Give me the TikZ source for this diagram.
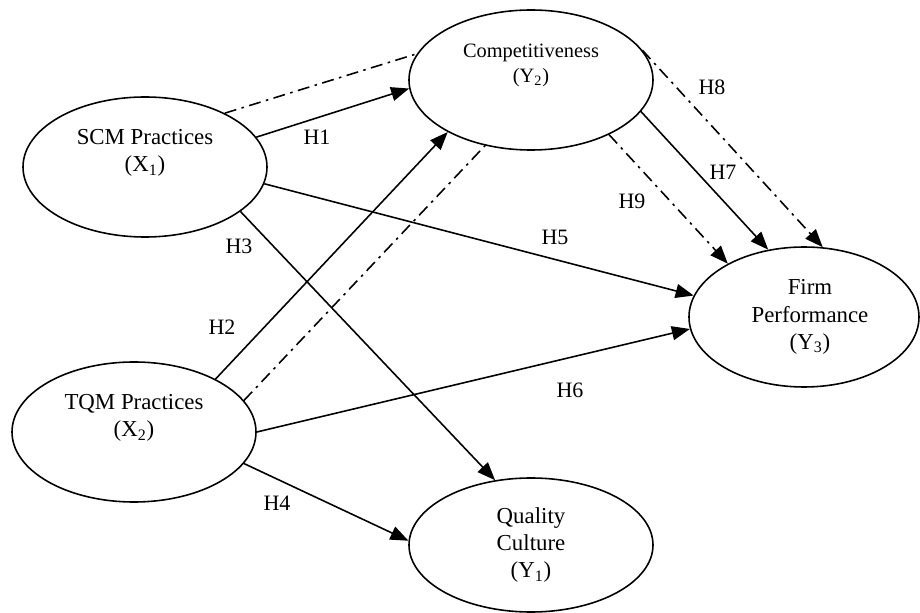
\documentclass[tikz,border=0pt]{standalone}
\usepackage{fontspec}
\setmainfont{Liberation Serif}
\usetikzlibrary{shapes.geometric,arrows.meta}

\tikzset{
	construct/.style = {draw, ellipse, line width=0.9pt, inner sep=0pt, minimum width=48.8mm, minimum height=28mm, align=center, font=\fontsize{13}{15.6}\selectfont},
	conname/.style = {inner sep=0pt, align=center, font=\fontsize{13}{15.6}\selectfont},
	hyp/.style = {line width=0.9pt, -{Triangle[length=3.6mm,width=2.8mm]}},
	indirect/.style = {line width=0.9pt, dash pattern=on 2.4mm off 1.1mm on 0.5mm off 1.1mm},
	hname/.style = {inner sep=0pt, font=\fontsize{12.5}{15}\selectfont}
}

\begin{document}
\begin{tikzpicture}[x=0.2mm,y=-0.2mm]
		\clip (0,0) rectangle (920,613);

		\node[construct] (scm) at (145,167) {};
		\node[conname] (scmname) at ([yshift=2.8mm]scm.center) {SCM Practices\\(X\textsubscript{1})};
		\node[construct] (tqm) at (134,432) {};
		\node[conname] (tqmname) at ([yshift=2.8mm]tqm.center) {TQM Practices\\(X\textsubscript{2})};
		\node[construct] (comp) at (531,80) {};
		\node[conname, font=\fontsize{11.6}{14.2}\selectfont] (compname) at ([yshift=3mm]comp.center) {Competitiveness\\(Y\textsubscript{2})};
		\node[construct, minimum width=46mm] (firm) at (804,317) {};
		\node[conname] (firmname) at ([xshift=1.2mm]firm.center) {Firm\\Performance\\(Y\textsubscript{3})};
		\node[construct, minimum height=26.8mm] (qual) at (531,545) {Quality\\Culture\\(Y\textsubscript{1})};

		\draw[indirect] (scm.34) -- (comp.167);
		\draw[indirect] (tqm.16) -- (comp.235);
		\draw[hyp] (scm.15) -- (comp.184);
		\draw[hyp] (tqm.33) -- (comp.212);
		\draw[hyp] (scm.335) -- (qual.119);
		\draw[hyp] (tqm.344) -- (qual.178);
		\draw[hyp] (scm.352) -- (firm.169);
		\draw[hyp] (tqm.0.5) -- (firm.186);
		\draw[hyp] (comp.344) -- (firm.118);
		\draw[hyp, indirect] (comp.15) -- (firm.75);
		\draw[hyp, indirect] (comp.325) -- (firm.145);

		\node[hname] (h1) at (317,137) {H1};
		\node[hname] (h2) at (222,327) {H2};
		\node[hname] (h3) at (239,246) {H3};
		\node[hname] (h4) at (277,503) {H4};
		\node[hname] (h5) at (555,237) {H5};
		\node[hname] (h6) at (570,390) {H6};
		\node[hname] (h7) at (723,172) {H7};
		\node[hname] (h8) at (712,87) {H8};
		\node[hname] (h9) at (632,201) {H9};
	\end{tikzpicture}
\end{document}
